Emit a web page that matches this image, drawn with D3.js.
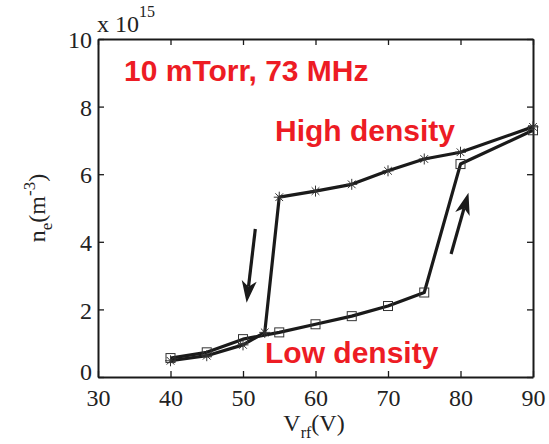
<!DOCTYPE html>
<html><head><meta charset="utf-8">
<script src="https://cdn.jsdelivr.net/npm/d3@7"></script>
<style>body{margin:0;background:#fff;}svg{display:block;}</style>
</head><body>
<svg id="c" width="549" height="444"></svg>
<script>
// Data
const highX = [40, 45, 50, 53, 55, 60, 65, 70, 75, 80, 90];
const highY = [0.48, 0.63, 0.95, 1.32, 5.32, 5.5, 5.7, 6.1, 6.45, 6.65, 7.4];
const lowX = [40, 45, 50, 55, 60, 65, 70, 75, 80, 90];
const lowY = [0.56, 0.73, 1.12, 1.32, 1.56, 1.8, 2.1, 2.5, 6.3, 7.3];
const xTicks = [30, 40, 50, 60, 70, 80, 90];
const yTicks = [0, 2, 4, 6, 8, 10];
// arrows in data coords [x0,y0,x1,y1]
const arrowDown = [51.7, 4.38, 50.5, 2.2];
const arrowUp = [78.7, 3.64, 81.1, 5.45];

const svg = d3.select("#c");
const L = 98, R = 533, T = 39, B = 377;
const x = d3.scaleLinear().domain([30, 90]).range([L, R]);
const y = d3.scaleLinear().domain([0, 10]).range([B, T]);
const ink = "#1a1a1a";
const red = "#ed1c24";

// axes with inward ticks
const tick = 6;
const gx = svg.append("g").attr("transform", `translate(0,${B})`)
  .call(d3.axisBottom(x).tickValues(xTicks).tickSizeInner(-tick).tickSizeOuter(0).tickPadding(12));
const gxt = svg.append("g").attr("transform", `translate(0,${T})`)
  .call(d3.axisTop(x).tickValues(xTicks).tickSizeInner(-tick).tickSizeOuter(0).tickFormat(""));
const gy = svg.append("g").attr("transform", `translate(${L},0)`)
  .call(d3.axisLeft(y).tickValues(yTicks).tickSizeInner(-tick).tickSizeOuter(0).tickPadding(6));
const gyr = svg.append("g").attr("transform", `translate(${R},0)`)
  .call(d3.axisRight(y).tickValues(yTicks).tickSizeInner(-tick).tickSizeOuter(0).tickFormat(""));
[gx, gxt, gy, gyr].forEach(g => {
  g.select(".domain").attr("stroke", ink).attr("stroke-width", 2);
  g.selectAll(".tick line").attr("stroke", ink).attr("stroke-width", 1.3);
  g.selectAll(".tick text").attr("font-family", "'Liberation Serif', 'Times New Roman', serif")
    .attr("font-size", 24).attr("fill", "#222");
});
gx.selectAll(".tick text").attr("dy", "0.71em");
gy.selectAll(".tick text").attr("dy", "0.36em");
gy.selectAll(".tick text").filter(d => d === 0).attr("dy", "0.1em");

// lines
const line = d3.line().x(d => x(d[0])).y(d => y(d[1]));
const highPts = highX.map((v, i) => [v, highY[i]]);
const lowPts = lowX.map((v, i) => [v, lowY[i]]);
svg.append("path").datum(lowPts).attr("d", line).attr("fill", "none")
  .attr("stroke", ink).attr("stroke-width", 3.2).attr("stroke-linejoin", "round");
svg.append("path").datum(highPts).attr("d", line).attr("fill", "none")
  .attr("stroke", ink).attr("stroke-width", 3.2).attr("stroke-linejoin", "round");

// square markers
const s = 9;
svg.append("g").selectAll("rect").data(lowPts).join("rect")
  .attr("x", d => x(d[0]) - s / 2).attr("y", d => y(d[1]) - s / 2)
  .attr("width", s).attr("height", s).attr("fill", "none")
  .attr("stroke", "#333").attr("stroke-width", 1);
// star markers
const r = 5.5;
const starG = svg.append("g").selectAll("g").data(highPts).join("g")
  .attr("transform", d => `translate(${x(d[0])},${y(d[1])})`);
[[-r, 0, r, 0], [0, -r, 0, r], [-r * 0.7, -r * 0.7, r * 0.7, r * 0.7], [-r * 0.7, r * 0.7, r * 0.7, -r * 0.7]]
  .forEach(a => starG.append("line").attr("x1", a[0]).attr("y1", a[1]).attr("x2", a[2]).attr("y2", a[3])
    .attr("stroke", "#333").attr("stroke-width", 1));

// arrows
function arrow(a) {
  const x0 = x(a[0]), y0 = y(a[1]), x1 = x(a[2]), y1 = y(a[3]);
  const ang = Math.atan2(y1 - y0, x1 - x0);
  const hl = 22, hw = 7.5;
  const bx = x1 - hl * Math.cos(ang), by = y1 - hl * Math.sin(ang);
  const nx = -Math.sin(ang), ny = Math.cos(ang);
  const sx = x1 - (hl - 6) * Math.cos(ang), sy = y1 - (hl - 6) * Math.sin(ang);
  svg.append("line").attr("x1", x0).attr("y1", y0).attr("x2", sx).attr("y2", sy)
    .attr("stroke", ink).attr("stroke-width", 3.2);
  svg.append("path").attr("d", `M${x1},${y1}L${bx + nx * hw},${by + ny * hw}L${sx},${sy}L${bx - nx * hw},${by - ny * hw}Z`)
    .attr("fill", ink);
}
arrow(arrowDown);
arrow(arrowUp);

// annotations
const sans = "'Liberation Sans', Arial, Helvetica, sans-serif";
svg.append("text").attr("x", 124).attr("y", 81).text("10 mTorr, 73 MHz")
  .attr("font-family", sans).attr("font-weight", "bold").attr("font-size", 30).attr("fill", red);
svg.append("text").attr("x", 275).attr("y", 141).text("High density")
  .attr("font-family", sans).attr("font-weight", "bold").attr("font-size", 30).attr("fill", red);
svg.append("text").attr("x", 265).attr("y", 363).text("Low density")
  .attr("font-family", sans).attr("font-weight", "bold").attr("font-size", 30).attr("fill", red);

const serif = "'Liberation Serif', 'Times New Roman', serif";
// exponent
const ex = svg.append("text").attr("x", 97).attr("y", 32).attr("font-family", serif)
  .attr("font-size", 24).attr("fill", "#222");
ex.append("tspan").text("x 10");
ex.append("tspan").attr("dy", -15).attr("font-size", 16).text("15");

// x label
const xl = svg.append("text").attr("x", 314).attr("y", 431).attr("text-anchor", "middle")
  .attr("font-family", serif).attr("font-size", 24).attr("fill", "#222");
xl.append("tspan").text("V");
xl.append("tspan").attr("dy", 7).attr("font-size", 16).text("rf");
xl.append("tspan").attr("dy", -7).text("(V)");

// y label
const yl = svg.append("text").attr("transform", "translate(45,208) rotate(-90)").attr("text-anchor", "middle")
  .attr("font-family", serif).attr("font-size", 24).attr("fill", "#222");
yl.append("tspan").text("n");
yl.append("tspan").attr("dy", 7).attr("font-size", 17).text("e");
yl.append("tspan").attr("dy", -7).text("(m");
yl.append("tspan").attr("dy", -10).attr("font-size", 17).text("-3");
yl.append("tspan").attr("dy", 10).text(")");
</script>
</body></html>
